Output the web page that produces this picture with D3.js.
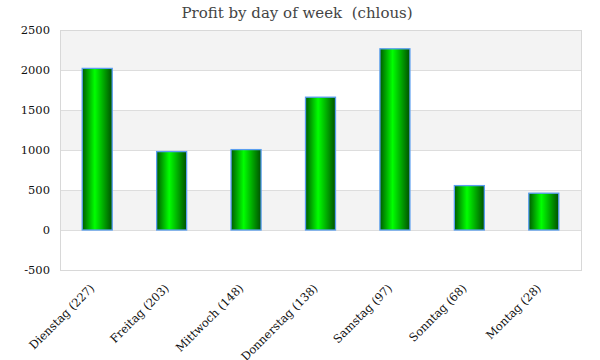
<!DOCTYPE html>
<html><head><meta charset="utf-8">
<script src="https://cdn.jsdelivr.net/npm/d3@7"></script>
<style>body{margin:0;background:#fff}svg{display:block}</style>
</head><body>
<script>
const categories = ["Dienstag (227)","Freitag (203)","Mittwoch (148)","Donnerstag (138)","Samstag (97)","Sonntag (68)","Montag (28)"];
const profit = [2020, 980, 1005, 1660, 2265, 555, 460];
const yTicks = [-500, 0, 500, 1000, 1500, 2000, 2500];
const title = "Profit by day of week  (chlous)";

const W = 600, H = 360;
const m = {l:60, r:19, t:30, b:90};
const font = "'DejaVu Serif', Georgia, serif";
const svg = d3.select("body").append("svg").attr("width", W).attr("height", H);

const defs = svg.append("defs");
const g = defs.append("linearGradient").attr("id","barg").attr("x1","0%").attr("x2","100%").attr("y1","0%").attr("y2","0%");
g.append("stop").attr("offset","0%").attr("stop-color","#005a00");
g.append("stop").attr("offset","42%").attr("stop-color","#00ff00");
g.append("stop").attr("offset","100%").attr("stop-color","#005000");

const x = d3.scaleBand().domain(categories).range([m.l, W - m.r]).paddingInner(0).paddingOuter(0);
const y = d3.scaleLinear().domain([-500, 2500]).range([H - m.b, m.t]);

// alternating bands
for (let i = 0; i < yTicks.length - 1; i++) {
  const lo = yTicks[i], hi = yTicks[i+1];
  svg.append("rect").attr("x", m.l).attr("width", W - m.r - m.l)
    .attr("y", y(hi)).attr("height", y(lo) - y(hi))
    .attr("fill", (i % 2 === 1) ? "#f3f3f3" : "#ffffff");
}
// gridlines
svg.append("g").selectAll("line").data(yTicks).join("line")
  .attr("x1", m.l).attr("x2", W - m.r).attr("y1", d => y(d)).attr("y2", d => y(d))
  .attr("stroke", "#dddddd").attr("stroke-width", 1).attr("shape-rendering","crispEdges");
// border
svg.append("rect").attr("x", m.l).attr("y", y(2500)).attr("width", W - m.r - m.l).attr("height", y(-500) - y(2500))
  .attr("fill","none").attr("stroke","#d8d8d8").attr("stroke-width",1).attr("shape-rendering","crispEdges");

// y axis labels
const yAxis = d3.axisLeft(y).tickValues(yTicks).tickSize(0).tickPadding(10).tickFormat(d => String(d));
const ya = svg.append("g").attr("transform", `translate(${m.l},0)`).call(yAxis);
ya.select(".domain").remove();
ya.selectAll("text").attr("font-family", font).attr("font-size", 11.5).attr("fill", "#111");

// bars
const bw = 30;
svg.append("g").selectAll("rect").data(categories).join("rect")
  .attr("x", d => x(d) + x.bandwidth()/2 - bw/2)
  .attr("width", bw)
  .attr("y", (d,i) => y(Math.max(0, profit[i])))
  .attr("height", (d,i) => Math.abs(y(profit[i]) - y(0)))
  .attr("fill", "url(#barg)")
  .attr("stroke", "#5a9ef0").attr("stroke-width", 1.3);

// x labels
const xAxis = d3.axisBottom(x).tickSize(0).tickPadding(0);
const xa = svg.append("g").attr("transform", `translate(0,${H - m.b})`).call(xAxis);
xa.select(".domain").remove();
xa.selectAll("text")
  .attr("font-family", font).attr("font-size", 11.5).attr("fill", "#111")
  .attr("text-anchor", "end").attr("dy", 0)
  .attr("transform", "translate(-2,19) rotate(-45)");

// title
svg.append("text").attr("x", 297).attr("y", 18).attr("text-anchor","middle")
  .attr("xml:space","preserve").style("white-space","pre")
  .attr("font-family", font).attr("font-size", 15).attr("fill", "#444").text(title);
</script>
</body></html>
